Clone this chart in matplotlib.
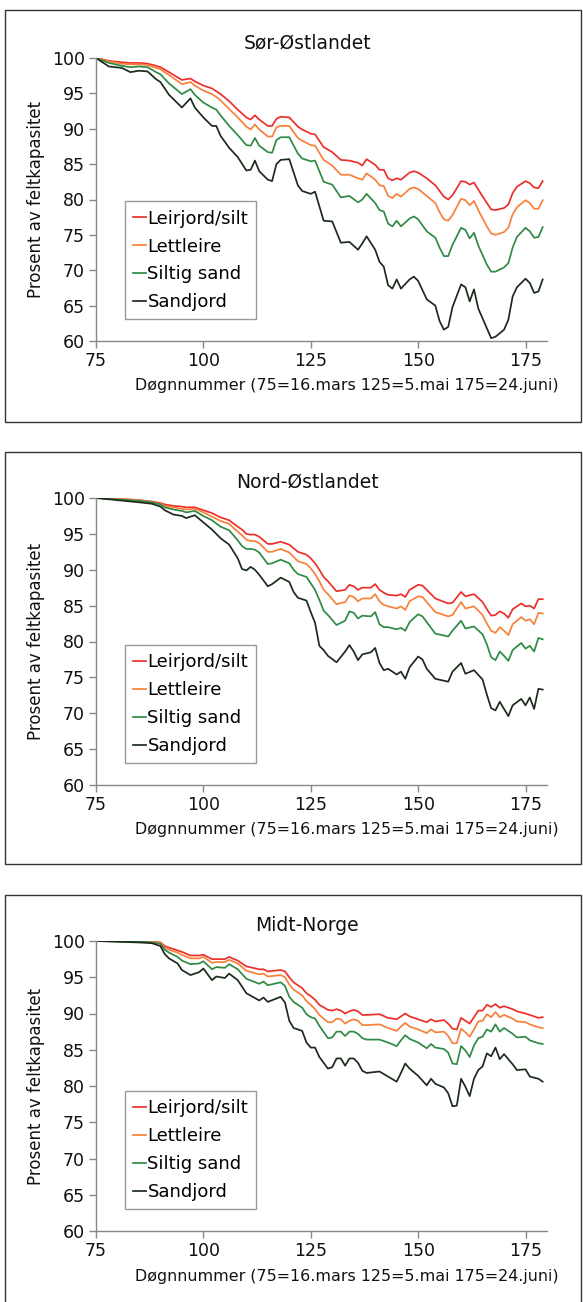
import matplotlib
matplotlib.use("Agg")
import matplotlib.pyplot as plt
from matplotlib.patches import Rectangle

# Sør-Østlandet
days_so = [75, 78, 81, 83, 85, 87, 89, 90, 92, 95, 97, 98, 100, 102, 103, 104, 106, 108,
           110, 111, 112, 113, 115, 116, 117, 118, 120, 122, 123, 125, 126, 128, 130, 132,
           134, 136, 137, 138, 140, 141, 142, 143, 144, 145, 146, 148, 149, 150, 152, 154,
           155, 156, 157, 158, 160, 161, 162, 163, 164, 166, 167, 168, 170, 171, 172, 173,
           175, 176, 177, 178, 179]
leirjord_so = [100, 99.6, 99.4, 99.3, 99.3, 99.2, 98.9, 98.7, 98.0, 96.9, 97.1, 96.7, 96.1,
               95.7, 95.3, 94.9, 93.9, 92.7, 91.6, 91.3, 91.9, 91.3, 90.4, 90.4, 91.4, 91.7,
               91.6, 90.3, 89.9, 89.3, 89.2, 87.4, 86.7, 85.6, 85.5, 85.2, 84.8, 85.7, 84.9,
               84.2, 84.2, 83.0, 82.7, 83.0, 82.8, 83.8, 84.0, 83.8, 83.0, 82.0, 81.2, 80.4,
               80.0, 80.6, 82.6, 82.5, 82.1, 82.4, 81.4, 79.5, 78.6, 78.5, 78.8, 79.3, 80.9,
               81.8, 82.6, 82.3, 81.7, 81.6, 82.6]
lettleire_so = [100, 99.5, 99.2, 99.1, 99.1, 99.0, 98.6, 98.4, 97.6, 96.3, 96.6, 96.1, 95.4,
                94.9, 94.5, 94.0, 92.8, 91.6, 90.3, 89.9, 90.6, 89.9, 88.9, 88.9, 90.2, 90.4,
                90.4, 88.7, 88.3, 87.7, 87.6, 85.6, 84.8, 83.5, 83.5, 83.0, 82.8, 83.7, 82.8,
                82.0, 81.9, 80.5, 80.2, 80.8, 80.4, 81.5, 81.7, 81.5, 80.5, 79.5, 78.2, 77.2,
                77.0, 77.8, 80.1, 79.9, 79.2, 79.8, 78.5, 76.2, 75.2, 75.0, 75.4, 76.0, 77.9,
                78.9, 79.9, 79.5, 78.7, 78.7, 79.9]
siltig_so = [100, 99.3, 98.9, 98.7, 98.8, 98.7, 98.0, 97.7, 96.4, 94.9, 95.6, 94.8, 93.7,
             93.0, 92.7, 91.9, 90.4, 89.1, 87.7, 87.6, 88.7, 87.6, 86.7, 86.6, 88.4, 88.8,
             88.8, 86.5, 85.8, 85.4, 85.5, 82.5, 82.1, 80.3, 80.5, 79.6, 80.0, 80.8, 79.5,
             78.5, 78.3, 76.6, 76.2, 77.0, 76.2, 77.3, 77.6, 77.2, 75.5, 74.6, 73.2, 72.0,
             72.0, 73.6, 76.0, 75.7, 74.5, 75.3, 73.5, 70.8, 69.8, 69.8, 70.4, 71.0, 73.2,
             74.7, 76.0, 75.5, 74.6, 74.7, 76.1]
sandjord_so = [100, 98.8, 98.6, 98.0, 98.2, 98.1, 97.0, 96.6, 94.8, 93.0, 94.3, 93.0, 91.6,
               90.4, 90.4, 89.0, 87.3, 86.0, 84.1, 84.2, 85.5, 84.0, 82.8, 82.6, 85.0, 85.6,
               85.7, 82.0, 81.2, 80.8, 81.1, 77.0, 76.9, 73.9, 74.0, 72.9, 73.8, 74.8, 72.9,
               71.2, 70.5, 67.9, 67.4, 68.7, 67.4, 68.7, 69.1, 68.5, 65.9, 65.0, 62.8, 61.6,
               62.0, 64.8, 68.0, 67.6, 65.6, 67.3, 64.6, 61.8, 60.4, 60.6, 61.6, 63.0, 66.3,
               67.6, 68.8, 68.2, 66.8, 67.0, 68.7]

# Nord-Østlandet
days_no = [75, 80, 85, 88, 90, 91, 93, 95, 96, 98, 100, 102, 104, 106, 108, 109, 110, 111,
           112, 113, 115, 116, 118, 120, 121, 122, 124, 125, 126, 127, 128, 129, 131, 133,
           134, 135, 136, 137, 139, 140, 141, 142, 143, 145, 146, 147, 148, 150, 151, 152,
           154, 157, 158, 160, 161, 163, 165, 166, 167, 168, 169, 170, 171, 172, 174, 175,
           176, 177, 178, 179]
leirjord_no = [100, 99.9, 99.7, 99.5, 99.3, 99.1, 98.9, 98.8, 98.7, 98.7, 98.3, 97.9, 97.3,
               96.9, 96.0, 95.6, 95.0, 94.9, 94.9, 94.6, 93.6, 93.6, 93.9, 93.5, 93.0, 92.5,
               92.1, 91.6, 90.9, 90.0, 89.0, 88.4, 87.0, 87.2, 87.9, 87.7, 87.2, 87.5, 87.5,
               88.0, 87.2, 86.8, 86.5, 86.4, 86.6, 86.2, 87.2, 87.9, 87.8, 87.2, 86.0, 85.3,
               85.4, 86.9, 86.3, 86.6, 85.5, 84.5, 83.6, 83.7, 84.2, 83.9, 83.3, 84.5, 85.3,
               84.9, 85.0, 84.6, 85.9, 85.9]
lettleire_no = [100, 99.9, 99.7, 99.4, 99.2, 98.9, 98.7, 98.5, 98.4, 98.5, 98.0, 97.4, 96.8,
                96.4, 95.3, 94.8, 94.2, 94.0, 94.0, 93.7, 92.5, 92.5, 92.9, 92.4, 91.8, 91.2,
                90.8, 90.2, 89.4, 88.4, 87.2, 86.6, 85.2, 85.5, 86.4, 86.2, 85.6, 86.0, 86.0,
                86.6, 85.6, 85.1, 84.9, 84.6, 84.9, 84.4, 85.6, 86.3, 86.2, 85.5, 84.1, 83.5,
                83.7, 85.5, 84.6, 84.9, 83.7, 82.5, 81.5, 81.2, 82.0, 81.5, 80.9, 82.4, 83.4,
                82.9, 83.1, 82.4, 84.0, 83.9]
siltig_no = [100, 99.8, 99.6, 99.4, 99.1, 98.7, 98.4, 98.2, 98.0, 98.2, 97.5, 96.9, 96.0,
             95.5, 94.1, 93.3, 92.9, 92.9, 92.8, 92.4, 90.8, 90.9, 91.4, 90.9, 90.0, 89.4,
             89.0, 88.1, 87.2, 85.8, 84.3, 83.7, 82.3, 82.9, 84.2, 84.0, 83.2, 83.6, 83.5,
             84.1, 82.4, 82.0, 82.0, 81.7, 81.9, 81.5, 82.7, 83.8, 83.5, 82.7, 81.1, 80.7,
             81.5, 82.9, 81.8, 82.1, 81.0, 79.6, 77.8, 77.4, 78.6, 78.0, 77.3, 78.8, 79.8,
             79.0, 79.4, 78.6, 80.5, 80.3]
sandjord_no = [100, 99.7, 99.4, 99.2, 98.8, 98.3, 97.7, 97.5, 97.2, 97.6, 96.6, 95.6, 94.4,
               93.5, 91.6, 90.1, 89.9, 90.4, 90.0, 89.3, 87.7, 88.0, 88.9, 88.3, 86.9, 86.1,
               85.7, 84.1, 82.6, 79.4, 78.8, 78.0, 77.1, 78.6, 79.5, 78.6, 77.4, 78.2, 78.5,
               79.1, 77.0, 76.0, 76.2, 75.4, 75.8, 74.8, 76.4, 77.9, 77.5, 76.2, 74.8, 74.4,
               75.8, 77.0, 75.5, 76.0, 74.7, 72.6, 70.7, 70.4, 71.6, 70.6, 69.6, 71.1, 72.0,
               71.1, 72.2, 70.6, 73.4, 73.3]

# Midt-Norge
days_mn = [75, 85, 88, 90, 91, 92, 94, 95, 97, 99, 100, 102, 103, 105, 106, 108, 110, 113,
           114, 115, 118, 119, 120, 121, 123, 124, 125, 126, 127, 129, 130, 131, 132, 133,
           134, 135, 136, 137, 138, 141, 143, 145, 146, 147, 148, 150, 152, 153, 154, 156,
           157, 158, 159, 160, 161, 162, 163, 164, 165, 166, 167, 168, 169, 170, 172, 173,
           175, 176, 178, 179]
leirjord_mn = [100, 100, 99.9, 99.8, 99.3, 99.1, 98.7, 98.5, 98.0, 98.0, 98.1, 97.5, 97.5,
               97.5, 97.8, 97.3, 96.5, 96.1, 96.1, 95.8, 96.0, 95.8, 95.0, 94.3, 93.5, 92.8,
               92.4, 91.9, 91.2, 90.5, 90.4, 90.6, 90.4, 90.0, 90.3, 90.5, 90.3, 89.8, 89.8,
               89.9, 89.4, 89.2, 89.6, 90.0, 89.6, 89.2, 88.8, 89.2, 88.9, 89.1, 88.6, 87.9,
               87.8, 89.4, 89.0, 88.6, 89.5, 90.4, 90.4, 91.2, 90.9, 91.3, 90.8, 91.0, 90.6,
               90.3, 90.0, 89.8, 89.4, 89.5]
lettleire_mn = [100, 99.9, 99.9, 99.7, 99.1, 98.8, 98.4, 98.1, 97.6, 97.6, 97.8, 97.0, 97.1,
                97.1, 97.4, 96.9, 95.9, 95.4, 95.5, 95.1, 95.3, 95.0, 94.0, 93.3, 92.5, 91.7,
                91.2, 90.6, 89.8, 88.8, 88.8, 89.3, 89.2, 88.6, 89.0, 89.2, 89.0, 88.4, 88.4,
                88.5, 88.0, 87.6, 88.2, 88.7, 88.2, 87.8, 87.3, 87.8, 87.4, 87.5, 86.9, 85.9,
                85.9, 87.9, 87.4, 86.8, 87.8, 88.9, 89.0, 89.9, 89.5, 90.2, 89.5, 89.8, 89.3,
                88.9, 88.8, 88.5, 88.1, 88.0]
siltig_mn = [100, 99.9, 99.8, 99.6, 98.8, 98.4, 97.8, 97.3, 96.8, 96.9, 97.2, 96.1, 96.4,
             96.3, 96.8, 96.1, 94.8, 94.1, 94.4, 93.9, 94.3, 93.8, 92.3, 91.6, 90.8, 89.9,
             89.5, 89.3, 88.3, 86.6, 86.7, 87.5, 87.5, 86.9, 87.5, 87.5, 87.2, 86.6, 86.4,
             86.4, 86.0, 85.5, 86.3, 87.0, 86.5, 86.0, 85.2, 85.8, 85.3, 85.1, 84.6, 83.1,
             83.0, 85.5, 84.9, 84.0, 85.6, 86.6, 86.8, 87.8, 87.5, 88.5, 87.5, 88.0, 87.2,
             86.7, 86.8, 86.3, 85.9, 85.8]
sandjord_mn = [100, 99.8, 99.7, 99.3, 98.2, 97.6, 96.9, 96.0, 95.3, 95.7, 96.2, 94.6, 95.1,
               94.9, 95.5, 94.6, 92.8, 91.8, 92.2, 91.6, 92.3, 91.5, 89.0, 88.0, 87.6, 86.0,
               85.3, 85.3, 84.0, 82.4, 82.6, 83.8, 83.8, 82.8, 83.8, 83.8, 83.2, 82.1, 81.8,
               82.0, 81.3, 80.6, 81.8, 83.1, 82.4, 81.4, 80.1, 81.0, 80.3, 79.8, 79.0, 77.2,
               77.3, 81.0, 79.9, 78.6, 81.0, 82.2, 82.7, 84.5, 84.1, 85.3, 83.7, 84.4, 83.0,
               82.2, 82.3, 81.3, 81.0, 80.6]

soil_labels = ["Leirjord/silt", "Lettleire", "Siltig sand", "Sandjord"]
soil_colors = ["#ec2f2a", "#f7803a", "#2f8a45", "#1c2a1c"]

regions = [
    ("Sør-Østlandet", days_so, [leirjord_so, lettleire_so, siltig_so, sandjord_so]),
    ("Nord-Østlandet", days_no, [leirjord_no, lettleire_no, siltig_no, sandjord_no]),
    ("Midt-Norge", days_mn, [leirjord_mn, lettleire_mn, siltig_mn, sandjord_mn]),
]

W, H = 583, 1302
fig = plt.figure(figsize=(W / 100, H / 100), dpi=100)
plt.rcParams['font.family'] = ['DejaVu Sans']

# axes placement in pixels: (top of y=100, bottom of y=60)
axes_px = [(58, 341), (498, 785), (941, 1231)]
boxes_px = [(10, 422), (452, 864), (895, 1310)]
left_px, right_px = 96, 547

for (title, days, series), (top, bot), (btop, bbot) in zip(regions, axes_px, boxes_px):
    # frame around each chart
    fig.patches.append(Rectangle((5 / W, 1 - bbot / H), 576 / W, (bbot - btop) / H,
                                 transform=fig.transFigure, fill=False,
                                 edgecolor="#333333", linewidth=1.0))

    ax = fig.add_axes([left_px / W, 1 - bot / H, (right_px - left_px) / W, (bot - top) / H])
    for vals, lab, col in zip(series, soil_labels, soil_colors):
        ax.plot(days, vals, color=col, linewidth=1.25, label=lab)

    ax.set_xlim(75, 180)
    ax.set_ylim(60, 100)
    ax.set_xticks([75, 100, 125, 150, 175])
    ax.set_yticks(range(60, 101, 5))
    for s in ["top", "right"]:
        ax.spines[s].set_visible(False)
    for s in ["left", "bottom"]:
        ax.spines[s].set_color("#888888")
        ax.spines[s].set_linewidth(1.0)
    ax.tick_params(direction="out", length=5, width=1, color="#888888",
                   labelsize=12.5, labelcolor="#111111", pad=3)

    ax.text(0.468, 1.055, title, transform=ax.transAxes, ha="center", va="center",
            fontsize=13.5, color="#111111")
    ax.set_ylabel("Prosent av feltkapasitet", fontsize=12, color="#111111")
    ax.yaxis.set_label_coords(-0.112, 0.5)
    ax.set_xlabel("Døgnnummer (75=16.mars 125=5.mai 175=24.juni)", fontsize=11.4,
                  color="#111111")
    ax.xaxis.set_label_coords(0.557, -0.13)

    leg = ax.legend(loc="lower left", bbox_to_anchor=(0.064, 0.076), borderaxespad=0,
                    fontsize=13, handlelength=0.7, handletextpad=0.1,
                    labelspacing=0.55, borderpad=0.45, fancybox=False,
                    framealpha=1, edgecolor="#999999")
    leg.get_frame().set_linewidth(1.0)

fig.savefig("out.png", dpi=100)
